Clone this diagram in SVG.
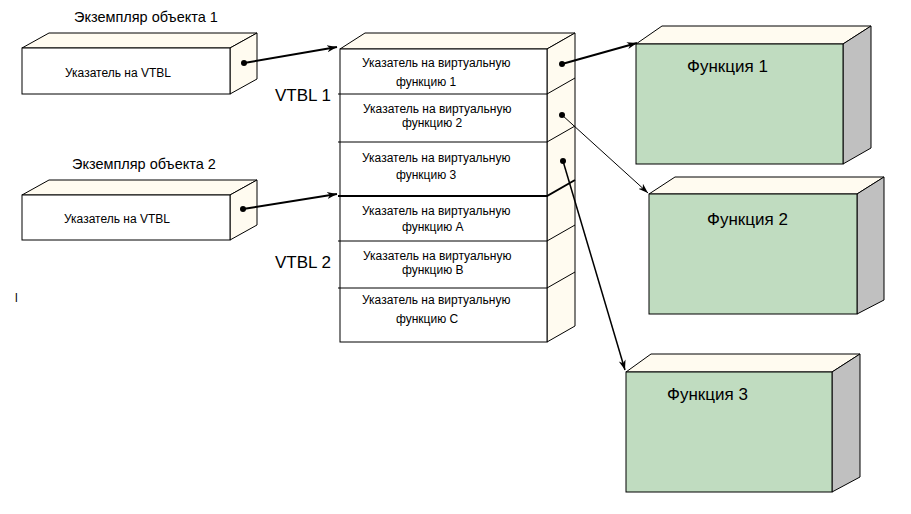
<svg xmlns="http://www.w3.org/2000/svg" width="911" height="514" viewBox="0 0 911 514">
<style>
.face{fill:#ffffff;stroke:#000;stroke-width:1}
.cream{fill:#fffbf0;stroke:#000;stroke-width:1}
.green{fill:#c0dcc0;stroke:#000;stroke-width:1}
.grey{fill:#c0c0c0;stroke:#000;stroke-width:1}
.t{font-family:"Liberation Sans",Arial,sans-serif;fill:#000}
.lbl{font-size:14.5px}
.small{font-size:12px}
.big{font-size:17px}
.conn{stroke:#000;fill:none}
.div{stroke:#000;stroke-width:1;fill:none}
</style>
<defs>
<marker id="arr" markerUnits="userSpaceOnUse" markerWidth="12" markerHeight="10" refX="10" refY="4" orient="auto" viewBox="0 0 12 8">
<path d="M0,0.5 L10,4 L0,7.5 L3,4 z" fill="#000"/>
</marker>
</defs>
<rect width="911" height="514" fill="#fff"/>

<g id="obj1">
<text class="t lbl" x="74" y="22">Экземпляр объекта 1</text>
<polygon class="cream" points="22,48 49,33 257,33 230,48"/>
<polygon class="cream" points="230,48 257,33 257,79 230,94"/>
<rect class="face" x="22" y="48" width="208" height="46"/>
<text class="t small" x="65" y="77">Указатель на VTBL</text>
</g>

<g id="obj2">
<text class="t lbl" x="72" y="169">Экземпляр объекта 2</text>
<polygon class="cream" points="22,195 49,180 257,180 230,195"/>
<polygon class="cream" points="230,195 257,180 257,225 230,240"/>
<rect class="face" x="22" y="195" width="208" height="45"/>
<text class="t small" x="64" y="223">Указатель на VTBL</text>
</g>

<g id="vtbl">
<text class="t big" x="275" y="101">VTBL 1</text>
<text class="t big" x="275" y="268">VTBL 2</text>
<polygon class="cream" points="340,49 365,33 575,33 547,49"/>
<polygon class="cream" points="547,49 575,33 575,326 547,342"/>
<rect class="face" x="340" y="49" width="207" height="293"/>
<path class="div" d="M338,94 H547 L575,78 M338,142 H547 L575,126 M338,241 H547 L575,225 M338,288 H547 L575,272"/>
<path d="M338,196 H547 L575,180" stroke="#000" stroke-width="2" fill="none"/>
<g class="t small">
<text x="362" y="67">Указатель на виртуальную</text>
<text x="396" y="86">функцию 1</text>
<text x="363" y="113">Указатель на виртуальную</text>
<text x="402" y="127">функцию 2</text>
<text x="362" y="162">Указатель на виртуальную</text>
<text x="396" y="179">функцию 3</text>
<text x="362" y="215">Указатель на виртуальную</text>
<text x="402" y="231">функцию A</text>
<text x="363" y="260">Указатель на виртуальную</text>
<text x="402" y="274">функцию B</text>
<text x="362" y="304">Указатель на виртуальную</text>
<text x="396" y="323">функцию C</text>
</g>
</g>

<g id="func1">
<polygon class="cream" points="636,44 662,26 871,26 843,44"/>
<polygon class="grey" points="843,44 871,26 871,148 843,164"/>
<rect class="green" x="636" y="44" width="207" height="120"/>
<text class="t big" x="687" y="72">Функция 1</text>
</g>

<g id="func2">
<polygon class="cream" points="649,194 675,177 884,177 857,194"/>
<polygon class="grey" points="857,194 884,177 884,300 857,314"/>
<rect class="green" x="649" y="194" width="208" height="120"/>
<text class="t big" x="707" y="225">Функция 2</text>
</g>

<g id="func3">
<polygon class="cream" points="626,372 651,354 860,354 832,372"/>
<polygon class="grey" points="832,372 860,354 860,477 832,492"/>
<rect class="green" x="626" y="372" width="206" height="120"/>
<text class="t big" x="667" y="400">Функция 3</text>
</g>

<text class="t small" x="15" y="302">l</text>

<g id="connectors">
<line class="conn" x1="244" y1="63" x2="337" y2="47" stroke-width="2" marker-end="url(#arr)"/>
<circle cx="244" cy="63" r="3"/>
<line class="conn" x1="243" y1="209" x2="337" y2="194" stroke-width="2" marker-end="url(#arr)"/>
<circle cx="243" cy="209" r="3"/>
<line class="conn" x1="562" y1="64" x2="637" y2="43" stroke-width="2" marker-end="url(#arr)"/>
<circle cx="562" cy="64" r="3"/>
<line class="conn" x1="562" y1="115" x2="648" y2="193" stroke-width="1" marker-end="url(#arr)"/>
<circle cx="562" cy="115" r="3"/>
<line class="conn" x1="563" y1="161" x2="625" y2="370" stroke-width="1.5" marker-end="url(#arr)"/>
<circle cx="563" cy="161" r="3"/>
</g>
</svg>
